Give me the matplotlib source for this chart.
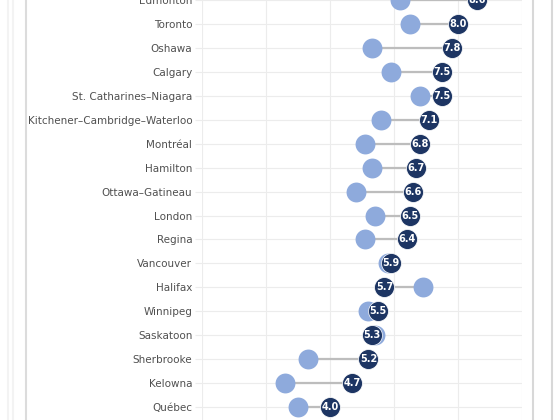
import matplotlib
matplotlib.use('Agg')
import matplotlib.pyplot as plt
from matplotlib.lines import Line2D

#  data, top to bottom
cities = ['Edmonton', 'Toronto', 'Oshawa', 'Calgary', 'St. Catharines\u2013Niagara',
          'Kitchener\u2013Cambridge\u2013Waterloo', 'Montr\u00e9al', 'Hamilton',
          'Ottawa\u2013Gatineau', 'London', 'Regina', 'Vancouver', 'Halifax',
          'Winnipeg', 'Saskatoon', 'Sherbrooke', 'Kelowna', 'Qu\u00e9bec']
current = [8.6, 8.0, 7.8, 7.5, 7.5, 7.1, 6.8, 6.7, 6.6, 6.5, 6.4, 5.9, 5.7,
           5.5, 5.3, 5.2, 4.7, 4.0]
previous = [6.2, 6.5, 5.3, 5.9, 6.8, 5.6, 5.1, 5.3, 4.8, 5.4, 5.1, 5.8, 6.9,
            5.2, 5.4, 3.3, 2.6, 3.0]
xticks = [0, 2, 4, 6, 8, 10]

dark = '#1d3563'
light = '#8eaadc'
grid = '#ececec'

W, H = 560, 420
fig = plt.figure(figsize=(W / 100, H / 100), dpi=100)
ax = fig.add_axes([202 / W, 0, 320 / W, 1])

ypos = list(range(len(cities)))
for y, a, b in zip(ypos, previous, current):
    ax.plot([a, b], [y, y], color='#bdbdbd', lw=1.6, zorder=2, solid_capstyle='butt')
ax.scatter(previous, ypos, s=205, color=light, zorder=3, linewidths=0)
ax.scatter(current, ypos, s=205, color=dark, zorder=4, edgecolors='white', linewidths=0.5)
for y, b in zip(ypos, current):
    ax.text(b, y, '{0:.1f}'.format(b), ha='center', va='center', color='white',
            fontsize=7, fontweight='bold', zorder=5)

ax.set_xlim(0, 10)
ax.set_ylim(len(cities) - 1 + 0.54, 0.05)
ax.set_xticks(xticks)
ax.set_yticks(ypos)
ax.set_yticklabels(cities, fontsize=7.5, color='#505050')
ax.tick_params(axis='y', length=5, color=grid, pad=2)
ax.tick_params(axis='x', length=0, labelbottom=False)
ax.grid(True, color=grid, lw=0.8, zorder=0)
ax.set_axisbelow(True)
for s in ax.spines.values():
    s.set_visible(False)

#  frame lines around the crop
for xp, c in [(8, '#f3f3f3'), (13, '#f3f3f3'), (26, '#dcdcdc'), (533, '#d8d8d8'), (552, '#d8d8d8')]:
    fig.add_artist(Line2D([xp / W, xp / W], [0, 1], color=c, lw=1.5))

fig.savefig('out.png', dpi=100)
